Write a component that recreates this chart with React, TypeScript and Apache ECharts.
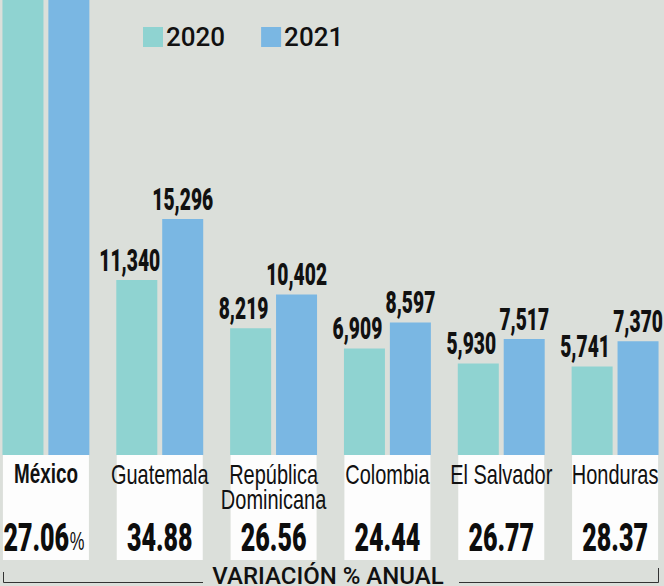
import React, { useEffect, useRef } from 'react';
import * as echarts from 'echarts';

const categories = ['México', 'Guatemala', 'República\nDominicana', 'Colombia', 'El Salvador', 'Honduras'];
const values2020 = [40605, 11340, 8219, 6909, 5930, 5741];
const values2021 = [51594, 15296, 10402, 8597, 7517, 7370];
const variation = ['27.06', '34.88', '26.56', '24.44', '26.77', '28.37'];
const seriesNames = ['2020', '2021'];
const footerText = 'VARIACIÓN % ANUAL';

const TEAL = '#8fd3d1';
const BLUE = '#7ab7e3';
const BG = '#dbdfda';
const FONT = "'Liberation Sans', Arial, sans-serif";
const HEAVY = "Roboto, 'Liberation Sans', sans-serif";
const SHIFT = 11; // chart canvas starts 11px left of the page

const fmt = (v: number) => v.toLocaleString('en-US');

export default function App() {
  const ref = useRef<HTMLDivElement>(null);
  useEffect(() => {
    document.body.style.margin = '0';
    const chart = echarts.init(ref.current!, null, { renderer: 'svg' });

    const labelText = (x: number, y: number, text: string) => ({
      type: 'text',
      x,
      y,
      scaleX: 0.62,
      silent: true,
      style: {
        text,
        fontFamily: HEAVY,
        fontWeight: 900,
        fontSize: 31,
        fill: '#111',
        textAlign: 'center',
        textVerticalAlign: 'middle',
      },
    });

    chart.setOption({
      animation: false,
      backgroundColor: BG,
      legend: {
        data: seriesNames,
        left: 143 + SHIFT,
        top: 24,
        padding: 0,
        itemWidth: 20,
        itemHeight: 20,
        itemGap: 36,
        icon: 'rect',
        textStyle: { fontFamily: 'Roboto', fontSize: 26, fontWeight: 500, color: '#111', padding: [0, 0, 0, -2] },
      },
      grid: [
        { left: 0, right: 0, top: 0, bottom: 131 },
        { left: 0, right: 0, top: 455, bottom: 26 },
      ],
      xAxis: [
        { type: 'category', data: categories, gridIndex: 0, show: false },
        { type: 'category', data: categories, gridIndex: 1, show: false },
      ],
      yAxis: [
        { type: 'value', min: 0, max: 29500, gridIndex: 0, show: false },
        { type: 'value', min: 0, max: 1, gridIndex: 1, show: false },
      ],
      series: [
        {
          name: seriesNames[0],
          type: 'bar',
          xAxisIndex: 0,
          yAxisIndex: 0,
          data: values2020,
          barWidth: 41,
          barGap: '12%',
          itemStyle: { color: TEAL },
        },
        {
          name: seriesNames[1],
          type: 'bar',
          xAxisIndex: 0,
          yAxisIndex: 0,
          data: values2021,
          barWidth: 41,
          barGap: '12%',
          itemStyle: { color: BLUE },
        },
        {
          name: 'valueLabels',
          type: 'custom',
          xAxisIndex: 0,
          yAxisIndex: 0,
          silent: true,
          data: categories.map((_, i) => [i, values2020[i], values2021[i]]),
          encode: { x: 0, y: [1, 2] },
          renderItem: (params: any, api: any) => {
            const i = api.value(0);
            if (i === 0) return { type: 'group', children: [] };
            const p1 = api.coord([i, api.value(1)]);
            const p2 = api.coord([i, api.value(2)]);
            return {
              type: 'group',
              children: [
                labelText(p1[0] - 23 - 7, p1[1] - 20, fmt(api.value(1))),
                labelText(p2[0] + 23, p2[1] - 20, fmt(api.value(2))),
              ],
            };
          },
        },
        {
          name: 'panels',
          type: 'custom',
          xAxisIndex: 1,
          yAxisIndex: 1,
          silent: true,
          data: categories.map((_, i) => [i, 1]),
          encode: { x: 0, y: 1 },
          renderItem: (params: any, api: any) => {
            const i = api.value(0);
            const top = api.coord([i, 1]);
            const bottom = api.coord([i, 0]);
            const cx = top[0];
            const name = categories[i];
            const lines = name.split('\n');
            const bold = i === 0;
            const children: any[] = [
              {
                type: 'rect',
                shape: { x: cx - 43, y: top[1], width: 86, height: bottom[1] - top[1] },
                style: { fill: '#fdfdfd' },
              },
            ];
            lines.forEach((ln, k) => {
              children.push({
                type: 'text',
                x: cx,
                y: top[1] + 19 + k * 25,
                scaleX: bold ? 0.7 : 0.74,
                style: {
                  text: ln,
                  fontFamily: FONT,
                  fontWeight: bold ? 'bold' : 'normal',
                  fontSize: 27,
                  fill: '#111',
                  textAlign: 'center',
                  textVerticalAlign: 'middle',
                },
              });
            });
            const pct = variation[i];
            children.push({
              type: 'text',
              x: cx - (i === 0 ? 2 : 0),
              y: top[1] + 83,
              scaleX: 0.66,
              style: {
                text: i === 0 ? `{a|${pct}}{s|%}` : `{a|${pct}}`,
                textAlign: 'center',
                textVerticalAlign: 'middle',
                rich: {
                  a: { fontFamily: HEAVY, fontWeight: 900, fontSize: 38, fill: '#0d0d0d', verticalAlign: 'bottom' },
                  s: { fontFamily: FONT, fontWeight: 'normal', fontSize: 25, fill: '#0d0d0d', verticalAlign: 'bottom', padding: [0, 0, 3, 1] },
                },
              },
            });
            return { type: 'group', children };
          },
        },
      ],
      graphic: [
        { type: 'polyline', silent: true, shape: { points: [[3.5 + SHIFT, 572], [3.5 + SHIFT, 582.5], [203 + SHIFT, 582.5]] }, style: { stroke: '#333', lineWidth: 1, fill: null } },
        { type: 'polyline', silent: true, shape: { points: [[459 + SHIFT, 582.5], [658.5 + SHIFT, 582.5], [658.5 + SHIFT, 568]] }, style: { stroke: '#333', lineWidth: 1, fill: null } },
        {
          type: 'text',
          x: 328 + SHIFT,
          y: 564,
          silent: true,
          style: { text: footerText, fontFamily: 'Roboto', fontSize: 24, fontWeight: 500, fill: '#111', textAlign: 'center', textVerticalAlign: 'top' },
        },
      ],
    });
    return () => chart.dispose();
  }, []);
  return (
    <div style={{ position: 'relative', width: 664, height: 586, overflow: 'hidden' }}>
      <div ref={ref} style={{ position: 'absolute', left: -SHIFT, top: 0, width: 683, height: 586 }} />
    </div>
  );
}
